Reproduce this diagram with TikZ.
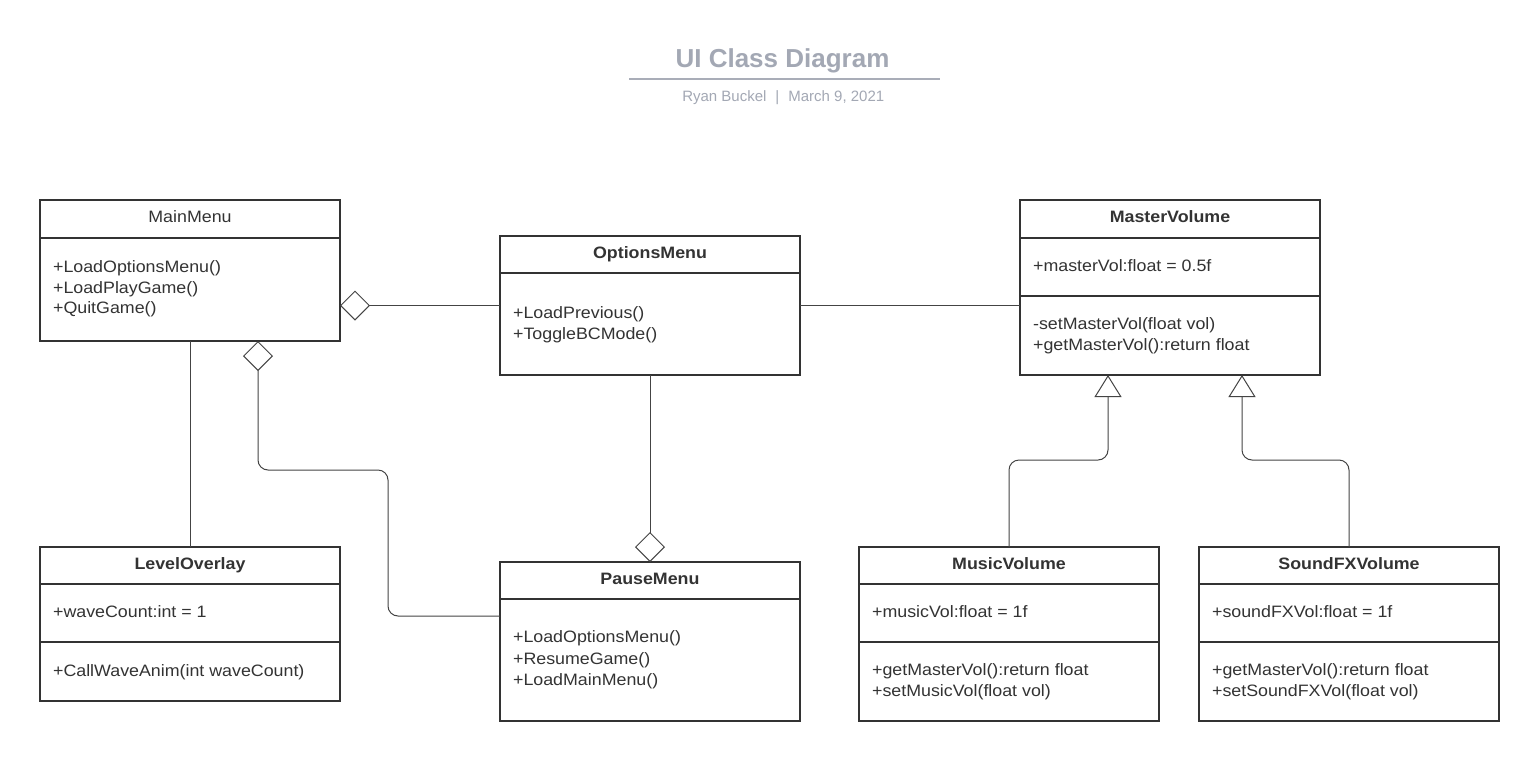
\documentclass[tikz,border=0pt]{standalone}
\usepackage{fontspec}
\setmainfont{Liberation Sans}
\newfontfamily\boxfont[FakeStretch=1.08]{Liberation Sans}
\usetikzlibrary{arrows.meta}
\definecolor{ink}{HTML}{333333}
\definecolor{lineink}{HTML}{444444}
\definecolor{titlegrey}{HTML}{A3A8B4}
\definecolor{rulegrey}{HTML}{A9ADB8}
\begin{document}
\begin{tikzpicture}[x=0.5pt,y=-0.5pt,
  classbox/.style={draw=ink, line width=1pt, rectangle, anchor=north west, inner sep=0pt, outer sep=0pt, minimum width=150pt},
  sepline/.style={draw=ink, line width=1pt},
  cname/.style={anchor=base, inner sep=0pt, text=ink, font=\boxfont\fontsize{8.25pt}{10pt}\selectfont\bfseries},
  cnamereg/.style={anchor=base, inner sep=0pt, text=ink, font=\boxfont\fontsize{8.25pt}{10pt}\selectfont},
  member/.style={anchor=base west, inner sep=0pt, text=ink, font=\boxfont\fontsize{8.25pt}{10pt}\selectfont},
  conn/.style={draw=lineink, line width=0.5pt, rounded corners=5pt},
  agg/.style={conn, -{Diamond[open, length=15pt, width=15pt, line width=0.5pt]}},
  gen/.style={conn, -{Triangle[open, length=11pt, width=13.5pt, line width=0.5pt]}}
]
\useasboundingbox (0,0) rectangle (1539,762);
\fill[white] (0,0) rectangle (1539,762);

% title block
\node[anchor=base, inner sep=0pt, text=titlegrey, font=\fontsize{13pt}{15pt}\selectfont\bfseries] (title) at (782.5,67) {UI Class Diagram};
\draw[rulegrey, line width=1pt] (629,79) coordinate (rl) -- (940,79) coordinate (rr);
\node[anchor=base, inner sep=0pt, text=titlegrey, font=\fontsize{7.5pt}{9pt}\selectfont] (subtitle) at (783.3,101) {Ryan Buckel\hspace{4.5pt}|\hspace{4.5pt}March 9, 2021};

% MainMenu
\node[classbox, minimum height=70.5pt] (mm) at (40,200) {};
\draw[sepline] (40,238) -- (340,238);
\node[cnamereg] (mmT) at (190,222) {MainMenu};
\node[member] (mm1) at (52.7,272) {+LoadOptionsMenu()};
\node[member] (mm2) at (52.7,293) {+LoadPlayGame()};
\node[member] (mm3) at (52.7,313.5) {+QuitGame()};

% OptionsMenu
\node[classbox, minimum height=69.5pt] (om) at (500,236) {};
\draw[sepline] (500,273) -- (800,273);
\node[cname] (omT) at (650,258.5) {OptionsMenu};
\node[member] (om1) at (512.7,318) {+LoadPrevious()};
\node[member] (om2) at (512.7,339) {+ToggleBCMode()};

% MasterVolume
\node[classbox, minimum height=87.5pt] (mv) at (1020,200) {};
\draw[sepline] (1020,238) -- (1320,238);
\draw[sepline] (1020,296) -- (1320,296);
\node[cname] (mvT) at (1170,222.5) {MasterVolume};
\node[member] (mv1) at (1032.7,271) {+masterVol:float = 0.5f};
\node[member] (mv2) at (1032.7,329) {-setMasterVol(float vol)};
\node[member] (mv3) at (1032.7,350) {+getMasterVol():return float};

% LevelOverlay
\node[classbox, minimum height=77pt] (lo) at (40,547) {};
\draw[sepline] (40,584) -- (340,584);
\draw[sepline] (40,642) -- (340,642);
\node[cname] (loT) at (190,569) {LevelOverlay};
\node[member] (lo1) at (52.7,617.5) {+waveCount:int = 1};
\node[member] (lo2) at (52.7,676) {+CallWaveAnim(int waveCount)};

% PauseMenu
\node[classbox, minimum height=79.5pt] (pm) at (500,562) {};
\draw[sepline] (500,599) -- (800,599);
\node[cname] (pmT) at (650,584) {PauseMenu};
\node[member] (pm1) at (512.7,642.5) {+LoadOptionsMenu()};
\node[member] (pm2) at (512.7,664) {+ResumeGame()};
\node[member] (pm3) at (512.7,685.5) {+LoadMainMenu()};

% MusicVolume
\node[classbox, minimum height=87pt] (muv) at (859,547) {};
\draw[sepline] (859,584) -- (1159,584);
\draw[sepline] (859,642) -- (1159,642);
\node[cname] (muvT) at (1009,569) {MusicVolume};
\node[member] (muv1) at (871.7,617.5) {+musicVol:float = 1f};
\node[member] (muv2) at (871.7,675.5) {+getMasterVol():return float};
\node[member] (muv3) at (871.7,696.5) {+setMusicVol(float vol)};

% SoundFXVolume
\node[classbox, minimum height=87pt] (sfx) at (1199,547) {};
\draw[sepline] (1199,584) -- (1499,584);
\draw[sepline] (1199,642) -- (1499,642);
\node[cname] (sfxT) at (1349,569) {SoundFXVolume};
\node[member] (sfx1) at (1211.7,617.5) {+soundFXVol:float = 1f};
\node[member] (sfx2) at (1211.7,675.5) {+getMasterVol():return float};
\node[member] (sfx3) at (1211.7,696.5) {+setSoundFXVol(float vol)};

% connection points
\coordinate (mmD) at (258,341);
\coordinate (pmIn) at (500,616);
\coordinate (mvT1) at (1108,375);
\coordinate (mvT2) at (1242,375);

% connectors
\draw[agg] (om.west) -- (om.west -| mm.east);
\draw[conn] (om.east) -- (om.east -| mv.west);
\draw[conn] (mm.south) -- (lo.north);
\draw[agg] (pmIn) -- (388,616) -- (388,470) -- (258,470) -- (mmD);
\draw[agg] (om.south) -- (pm.north);
\draw[gen] (muv.north) -- ++(0,-87) -| (mvT1);
\draw[gen] (sfx.north) -- ++(0,-87) -| (mvT2);
\end{tikzpicture}
\end{document}
